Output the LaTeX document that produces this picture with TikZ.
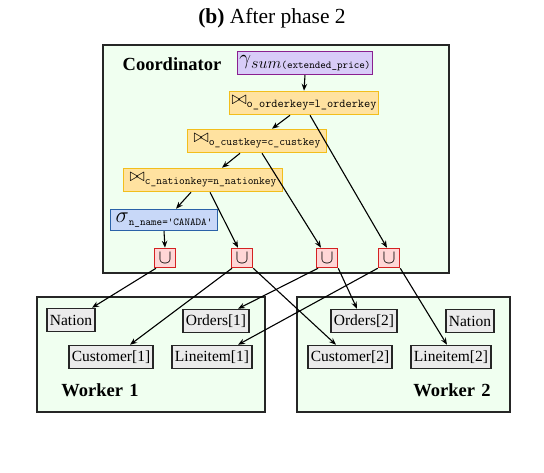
\documentclass[tikz,border=0pt]{standalone}
\usepackage{fontspec}
\setmainfont{Liberation Serif}
\usetikzlibrary{arrows.meta,calc}
\definecolor{bggreen}{HTML}{F0FFF0}
\definecolor{gfill}{HTML}{D8CCF8}
\definecolor{gdraw}{HTML}{8A2090}
\definecolor{jfill}{HTML}{FFE2A0}
\definecolor{jdraw}{HTML}{F2BE1C}
\definecolor{sfill}{HTML}{C8D8F8}
\definecolor{sdraw}{HTML}{2A62A8}
\definecolor{ufill}{HTML}{FFD6D6}
\definecolor{udraw}{HTML}{D42222}
\definecolor{tfill}{HTML}{EBEBEB}
\newcommand{\ttsub}[2][11.7]{\raisebox{-3.5pt}{\fontsize{#1}{13}\selectfont\ttfamily #2}}
\newcommand{\opsym}[2][1.5]{\scalebox{#1}{$#2$}}
\tikzset{
  x=1pt,y=-1pt,
  region/.style={draw=black!85,line width=1.5pt,fill=bggreen},
  op/.style={line width=1.5pt,inner sep=2pt,minimum height=23pt,font=\fontsize{15}{18}\selectfont},
  gop/.style={op,draw=gdraw,fill=gfill},
  jop/.style={op,draw=jdraw,fill=jfill},
  sop/.style={op,draw=sdraw,fill=sfill,minimum height=21pt},
  uop/.style={line width=1.5pt,draw=udraw,fill=ufill,minimum width=21pt,minimum height=19pt,inner sep=0pt,font=\fontsize{15}{16}\selectfont},
  tbl/.style={draw=black!85,line width=1.5pt,fill=tfill,minimum height=23pt,inner sep=3pt,font=\fontsize{15.5}{18}\selectfont},
  lbl/.style={font=\fontsize{18.5}{22}\selectfont\bfseries},
  arr/.style={-{Stealth[length=7pt,width=5.5pt]},line width=1.1pt,black},
}
\begin{document}
\begin{tikzpicture}
\useasboundingbox (0,0) rectangle (544,472);
\node[font=\fontsize{21.5}{26}\selectfont] (title) at (272,18) {\textbf{(b)} After phase 2};
% regions
\draw[region] (103,45) rectangle (449,273);
\draw[region] (37,297) rectangle (265,412);
\draw[region] (297,297) rectangle (510,412);
\node[lbl] (coord) at (172,64) {Coordinator};
\node[lbl] (w1) at (100,390) {Worker\,\,1};
\node[lbl] (w2) at (452,390) {Worker\,\,2};
% operators
\node[gop,minimum width=133pt] (g) at (305,63) {\opsym[1.45]{\gamma}\raisebox{-3.5pt}{\scalebox{1.12}{$sum$}\fontsize{10.6}{13}\selectfont\ttfamily(extended\_price)}};
\node[jop,minimum width=148pt] (j1) at (304,103) {\opsym[1.3]{\bowtie}\ttsub[12]{o\_orderkey=l\_orderkey}};
\node[jop,minimum width=139pt] (j2) at (257,141) {\opsym[1.3]{\bowtie}\ttsub[11.4]{o\_custkey=c\_custkey}};
\node[jop,minimum width=159pt] (j3) at (203,180) {\opsym[1.3]{\bowtie}\ttsub[11.1]{c\_nationkey=n\_nationkey}};
\node[sop,minimum width=107pt] (s) at (164,220) {\opsym[1.55]{\sigma}\ttsub[10.6]{n\_name='CANADA'}};
\node[uop] (u1) at (165,258) {\opsym[1.35]{\cup}};
\node[uop] (u2) at (242,258) {\opsym[1.35]{\cup}};
\node[uop] (u3) at (327,258) {\opsym[1.35]{\cup}};
\node[uop] (u4) at (389,258) {\opsym[1.35]{\cup}};
% tables
\node[tbl] (n1) at (71,320) {Nation};
\node[tbl] (o1) at (216,321) {Orders[1]};
\node[tbl] (c1) at (111,357) {Customer[1]};
\node[tbl] (l1) at (212,357) {Lineitem[1]};
\node[tbl] (o2) at (364,321) {Orders[2]};
\node[tbl] (n2) at (470,321) {Nation};
\node[tbl] (c2) at (350,357) {Customer[2]};
\node[tbl] (l2) at (451,357) {Lineitem[2]};
% connectors
\draw[arr] (g.south) -- (j1.north);
\draw[arr] ($(j1.south)+(-14,0)$) -- ($(j2.north)+(15,0)$);
\draw[arr] ($(j1.south)+(6,0)$) -- ($(u4.north)+(-2,0)$);
\draw[arr] ($(j2.south)+(-17,0)$) -- ($(j3.north)+(19,0)$);
\draw[arr] ($(j2.south)+(5,0)$) -- ($(u3.north)+(-6,0)$);
\draw[arr] ($(j3.south)+(-12,0)$) -- ($(s.north)+(12,0)$);
\draw[arr] ($(j3.south)+(7,0)$) -- ($(u2.north)+(-4,0)$);
\draw[arr] (s.south) -- (u1.north);
\draw[arr] ($(u1.south)+(-9,0)$) -- ($(n1.north)+(21,0)$);
\draw[arr] ($(u2.south)+(-10,0)$) -- ($(c1.north)+(19,0)$);
\draw[arr] (u2.south east) -- ($(c2.north)+(-14,0)$);
\draw[arr] ($(u3.south)+(-9,0)$) -- ($(o1.north)+(22,0)$);
\draw[arr] (u3.south east) -- ($(o2.north)+(-7,0)$);
\draw[arr] (u4.south west) -- ($(l1.north)+(26,0)$);
\draw[arr] (u4.south east) -- ($(l2.north)+(-4,0)$);
\end{tikzpicture}
\end{document}
